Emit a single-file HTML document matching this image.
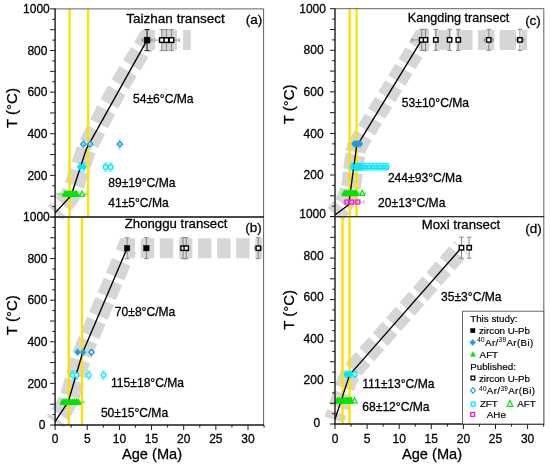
<!DOCTYPE html>
<html><head><meta charset="utf-8"><title>T-t paths</title><style>html,body{margin:0;padding:0;background:#fff;}svg{display:block;will-change:transform;}text{font-family:"Liberation Sans", sans-serif;fill:#000;stroke:#000;stroke-width:0.28px;paint-order:stroke fill;}</style>
</head><body>
<svg width="550" height="467" viewBox="0 0 550 467">
<rect width="550" height="467" fill="#fff"/>
<defs>
<clipPath id="clipa"><rect x="43.1" y="8.9" width="220" height="212.1"/></clipPath>
<clipPath id="clipb"><rect x="43.1" y="217" width="220" height="212"/></clipPath>
<clipPath id="clipc"><rect x="323" y="8.7" width="220.3" height="211.9"/></clipPath>
<clipPath id="clipd"><rect x="323" y="216.6" width="220.3" height="211.4"/></clipPath>
</defs>
<g clip-path="url(#clipa)">
<path d="M142.64,47.38 L147.05,40.11 L190.7,40.11" fill="none" stroke="#d6d6d6" stroke-width="20" stroke-dasharray="16.3 6" stroke-dashoffset="0" stroke-linejoin="miter" stroke-miterlimit="10"/>
<path d="M139.79,52.08 L124.6,77.12 Q114.23,94.22 105.13,112.03 L89.79,142.09 Q86.61,148.33 84.43,154.98 L73.35,188.91 Q71.17,195.57 66.41,200.69 L55.1,212.84" fill="none" stroke="#d6d6d6" stroke-width="20" stroke-dasharray="15.5 6.8" stroke-dashoffset="0" stroke-linejoin="miter" stroke-miterlimit="10"/>
</g>
<line x1="69.57" y1="8.9" x2="69.57" y2="217" stroke="#ffe100" stroke-width="2.4"/>
<line x1="88.09" y1="8.9" x2="88.09" y2="217" stroke="#ffe100" stroke-width="2.4"/>
<line x1="56" y1="194.11" x2="87.6" y2="194.11" stroke="#00e400" stroke-width="0.8"/>
<line x1="161.84" y1="29.61" x2="161.84" y2="50.61" stroke="#7d7d7d" stroke-width="0.9"/>
<line x1="159.54" y1="29.61" x2="164.14" y2="29.61" stroke="#7d7d7d" stroke-width="0.9"/>
<line x1="159.54" y1="50.61" x2="164.14" y2="50.61" stroke="#7d7d7d" stroke-width="0.9"/>
<line x1="166.34" y1="29.61" x2="166.34" y2="50.61" stroke="#7d7d7d" stroke-width="0.9"/>
<line x1="164.04" y1="29.61" x2="168.64" y2="29.61" stroke="#7d7d7d" stroke-width="0.9"/>
<line x1="164.04" y1="50.61" x2="168.64" y2="50.61" stroke="#7d7d7d" stroke-width="0.9"/>
<line x1="171.48" y1="29.61" x2="171.48" y2="50.61" stroke="#7d7d7d" stroke-width="0.9"/>
<line x1="169.18" y1="29.61" x2="173.78" y2="29.61" stroke="#7d7d7d" stroke-width="0.9"/>
<line x1="169.18" y1="50.61" x2="173.78" y2="50.61" stroke="#7d7d7d" stroke-width="0.9"/>
<line x1="154.64" y1="40.11" x2="179.34" y2="40.11" stroke="#7d7d7d" stroke-width="0.8"/>
<line x1="154.64" y1="38.11" x2="154.64" y2="42.11" stroke="#7d7d7d" stroke-width="0.8"/>
<line x1="179.34" y1="38.11" x2="179.34" y2="42.11" stroke="#7d7d7d" stroke-width="0.8"/>
<line x1="147.05" y1="29.61" x2="147.05" y2="50.61" stroke="#222" stroke-width="1.1"/>
<line x1="144.45" y1="29.61" x2="149.65" y2="29.61" stroke="#222" stroke-width="1.1"/>
<line x1="144.45" y1="50.61" x2="149.65" y2="50.61" stroke="#222" stroke-width="1.1"/>
<line x1="142.05" y1="40.11" x2="152.05" y2="40.11" stroke="#7d7d7d" stroke-width="0.8"/>
<line x1="142.05" y1="38.11" x2="142.05" y2="42.11" stroke="#7d7d7d" stroke-width="0.8"/>
<line x1="152.05" y1="38.11" x2="152.05" y2="42.11" stroke="#7d7d7d" stroke-width="0.8"/>
<line x1="83.39" y1="139.16" x2="83.39" y2="149.16" stroke="#8fd2f6" stroke-width="0.7"/>
<line x1="81.59" y1="139.16" x2="85.19" y2="139.16" stroke="#8fd2f6" stroke-width="0.7"/>
<line x1="81.59" y1="149.16" x2="85.19" y2="149.16" stroke="#8fd2f6" stroke-width="0.7"/>
<line x1="90.21" y1="139.16" x2="90.21" y2="149.16" stroke="#8fd2f6" stroke-width="0.7"/>
<line x1="88.41" y1="139.16" x2="92.01" y2="139.16" stroke="#8fd2f6" stroke-width="0.7"/>
<line x1="88.41" y1="149.16" x2="92.01" y2="149.16" stroke="#8fd2f6" stroke-width="0.7"/>
<line x1="119.79" y1="139.16" x2="119.79" y2="149.16" stroke="#8fd2f6" stroke-width="0.7"/>
<line x1="117.99" y1="139.16" x2="121.59" y2="139.16" stroke="#8fd2f6" stroke-width="0.7"/>
<line x1="117.99" y1="149.16" x2="121.59" y2="149.16" stroke="#8fd2f6" stroke-width="0.7"/>
<line x1="79.98" y1="162.96" x2="79.98" y2="171.16" stroke="#00e8ff" stroke-width="0.7"/>
<line x1="77.98" y1="162.96" x2="81.98" y2="162.96" stroke="#00e8ff" stroke-width="0.7"/>
<line x1="77.98" y1="171.16" x2="81.98" y2="171.16" stroke="#00e8ff" stroke-width="0.7"/>
<line x1="83.78" y1="162.96" x2="83.78" y2="171.16" stroke="#00e8ff" stroke-width="0.7"/>
<line x1="81.78" y1="162.96" x2="85.78" y2="162.96" stroke="#00e8ff" stroke-width="0.7"/>
<line x1="81.78" y1="171.16" x2="85.78" y2="171.16" stroke="#00e8ff" stroke-width="0.7"/>
<line x1="105.58" y1="162.96" x2="105.58" y2="171.16" stroke="#00e8ff" stroke-width="0.7"/>
<line x1="103.58" y1="162.96" x2="107.58" y2="162.96" stroke="#00e8ff" stroke-width="0.7"/>
<line x1="103.58" y1="171.16" x2="107.58" y2="171.16" stroke="#00e8ff" stroke-width="0.7"/>
<line x1="110.78" y1="162.96" x2="110.78" y2="171.16" stroke="#00e8ff" stroke-width="0.7"/>
<line x1="108.78" y1="162.96" x2="112.78" y2="162.96" stroke="#00e8ff" stroke-width="0.7"/>
<line x1="108.78" y1="171.16" x2="112.78" y2="171.16" stroke="#00e8ff" stroke-width="0.7"/>
<polyline points="55.1,212.84 71.17,195.57 86.61,148.33 147.05,40.11" fill="none" stroke="#000" stroke-width="1.35" stroke-linejoin="round"/>
<rect x="159.54" y="37.81" width="4.6" height="4.6" fill="#fff" stroke="#000" stroke-width="1.4"/>
<rect x="164.04" y="37.81" width="4.6" height="4.6" fill="#fff" stroke="#000" stroke-width="1.4"/>
<rect x="169.18" y="37.81" width="4.6" height="4.6" fill="#fff" stroke="#000" stroke-width="1.4"/>
<rect x="144.15" y="37.21" width="5.8" height="5.8" fill="#000" stroke="#000" stroke-width="0.6"/>
<path d="M83.39,141.26 L86.09,144.16 L83.39,147.06 L80.69,144.16Z" fill="#fff" stroke="#1b9ce6" stroke-width="1.4" stroke-linejoin="miter"/>
<circle cx="83.39" cy="144.16" r="0.7" fill="#1b9ce6" stroke="#1b9ce6" stroke-width="0.2"/>
<path d="M90.21,141.26 L92.91,144.16 L90.21,147.06 L87.51,144.16Z" fill="#fff" stroke="#1b9ce6" stroke-width="1.4" stroke-linejoin="miter"/>
<circle cx="90.21" cy="144.16" r="0.7" fill="#1b9ce6" stroke="#1b9ce6" stroke-width="0.2"/>
<path d="M119.79,141.26 L122.49,144.16 L119.79,147.06 L117.09,144.16Z" fill="#fff" stroke="#1b9ce6" stroke-width="1.4" stroke-linejoin="miter"/>
<circle cx="119.79" cy="144.16" r="0.7" fill="#1b9ce6" stroke="#1b9ce6" stroke-width="0.2"/>
<circle cx="79.98" cy="167.06" r="2.1" fill="#00e8ff" stroke="#00e8ff" stroke-width="1.3"/>
<circle cx="83.78" cy="167.06" r="2.1" fill="#00e8ff" stroke="#00e8ff" stroke-width="1.3"/>
<circle cx="105.58" cy="167.06" r="2.3" fill="#fff" stroke="#00e8ff" stroke-width="1.3"/>
<circle cx="110.78" cy="167.06" r="2.3" fill="#fff" stroke="#00e8ff" stroke-width="1.3"/>
<path d="M65.07,190.75 L67.87,196.35 L62.27,196.35Z" fill="#00e400" stroke="#00e400" stroke-width="1.0" stroke-linejoin="miter"/>
<path d="M67.32,190.75 L70.12,196.35 L64.52,196.35Z" fill="#00e400" stroke="#00e400" stroke-width="1.0" stroke-linejoin="miter"/>
<path d="M68.92,190.75 L71.72,196.35 L66.12,196.35Z" fill="#00e400" stroke="#00e400" stroke-width="1.0" stroke-linejoin="miter"/>
<path d="M70.53,190.75 L73.33,196.35 L67.73,196.35Z" fill="#00e400" stroke="#00e400" stroke-width="1.0" stroke-linejoin="miter"/>
<path d="M72.14,190.75 L74.94,196.35 L69.34,196.35Z" fill="#00e400" stroke="#00e400" stroke-width="1.0" stroke-linejoin="miter"/>
<path d="M73.75,190.75 L76.55,196.35 L70.95,196.35Z" fill="#00e400" stroke="#00e400" stroke-width="1.0" stroke-linejoin="miter"/>
<path d="M75.35,190.75 L78.15,196.35 L72.55,196.35Z" fill="#00e400" stroke="#00e400" stroke-width="1.0" stroke-linejoin="miter"/>
<path d="M76.64,190.75 L79.44,196.35 L73.84,196.35Z" fill="#00e400" stroke="#00e400" stroke-width="1.0" stroke-linejoin="miter"/>
<path d="M82.11,190.99 L84.61,196.19 L79.61,196.19Z" fill="#fff" stroke="#00e400" stroke-width="1.2" stroke-linejoin="miter"/>
<text x="175.5" y="23.2" font-size="13.5" text-anchor="middle" >Taizhan transect</text>
<text x="254.1" y="24.3" font-size="13.5" text-anchor="middle" >(a)</text>
<text x="133" y="103.4" font-size="12.1" text-anchor="start" >54±6°C/Ma</text>
<text x="108.2" y="186.6" font-size="12.1" text-anchor="start" >89±19°C/Ma</text>
<text x="108.2" y="206.6" font-size="12.1" text-anchor="start" >41±5°C/Ma</text>
<g clip-path="url(#clipb)">
<path d="M124.96,253.26 L127.12,248.2 L262.3,248.2" fill="none" stroke="#d6d6d6" stroke-width="20" stroke-dasharray="13.4 5.7" stroke-dashoffset="0" stroke-linejoin="miter" stroke-miterlimit="10"/>
<path d="M121.32,261.82 L85.23,346.59 Q82.49,353.03 80.53,359.75 L70.24,394.98 Q68.28,401.7 64.43,407.55 L55.1,421.67" fill="none" stroke="#d6d6d6" stroke-width="20" stroke-dasharray="16 5.3" stroke-dashoffset="0" stroke-linejoin="miter" stroke-miterlimit="10"/>
</g>
<line x1="68.8" y1="217" x2="68.8" y2="425" stroke="#ffe100" stroke-width="2.4"/>
<line x1="81.98" y1="217" x2="81.98" y2="425" stroke="#ffe100" stroke-width="2.4"/>
<line x1="60" y1="402.12" x2="85" y2="402.12" stroke="#00e400" stroke-width="0.8"/>
<line x1="127.12" y1="237.7" x2="127.12" y2="258.7" stroke="#7d7d7d" stroke-width="0.9"/>
<line x1="124.82" y1="237.7" x2="129.42" y2="237.7" stroke="#7d7d7d" stroke-width="0.9"/>
<line x1="124.82" y1="258.7" x2="129.42" y2="258.7" stroke="#7d7d7d" stroke-width="0.9"/>
<line x1="146.41" y1="237.7" x2="146.41" y2="258.7" stroke="#7d7d7d" stroke-width="0.9"/>
<line x1="144.11" y1="237.7" x2="148.71" y2="237.7" stroke="#7d7d7d" stroke-width="0.9"/>
<line x1="144.11" y1="258.7" x2="148.71" y2="258.7" stroke="#7d7d7d" stroke-width="0.9"/>
<line x1="183.06" y1="237.7" x2="183.06" y2="258.7" stroke="#7d7d7d" stroke-width="0.9"/>
<line x1="180.76" y1="237.7" x2="185.36" y2="237.7" stroke="#7d7d7d" stroke-width="0.9"/>
<line x1="180.76" y1="258.7" x2="185.36" y2="258.7" stroke="#7d7d7d" stroke-width="0.9"/>
<line x1="186.27" y1="237.7" x2="186.27" y2="258.7" stroke="#7d7d7d" stroke-width="0.9"/>
<line x1="183.97" y1="237.7" x2="188.57" y2="237.7" stroke="#7d7d7d" stroke-width="0.9"/>
<line x1="183.97" y1="258.7" x2="188.57" y2="258.7" stroke="#7d7d7d" stroke-width="0.9"/>
<line x1="258.29" y1="237.7" x2="258.29" y2="258.7" stroke="#7d7d7d" stroke-width="0.9"/>
<line x1="255.99" y1="237.7" x2="260.59" y2="237.7" stroke="#7d7d7d" stroke-width="0.9"/>
<line x1="255.99" y1="258.7" x2="260.59" y2="258.7" stroke="#7d7d7d" stroke-width="0.9"/>
<line x1="254.79" y1="248.2" x2="261.79" y2="248.2" stroke="#7d7d7d" stroke-width="0.8"/>
<line x1="254.79" y1="246.2" x2="254.79" y2="250.2" stroke="#7d7d7d" stroke-width="0.8"/>
<line x1="261.79" y1="246.2" x2="261.79" y2="250.2" stroke="#7d7d7d" stroke-width="0.8"/>
<line x1="181.16" y1="248.2" x2="188.16" y2="248.2" stroke="#7d7d7d" stroke-width="0.8"/>
<line x1="181.16" y1="246.2" x2="181.16" y2="250.2" stroke="#7d7d7d" stroke-width="0.8"/>
<line x1="188.16" y1="246.2" x2="188.16" y2="250.2" stroke="#7d7d7d" stroke-width="0.8"/>
<line x1="72.59" y1="370.98" x2="72.59" y2="379.18" stroke="#00e8ff" stroke-width="0.7"/>
<line x1="70.59" y1="370.98" x2="74.59" y2="370.98" stroke="#00e8ff" stroke-width="0.7"/>
<line x1="70.59" y1="379.18" x2="74.59" y2="379.18" stroke="#00e8ff" stroke-width="0.7"/>
<line x1="76.58" y1="370.98" x2="76.58" y2="379.18" stroke="#00e8ff" stroke-width="0.7"/>
<line x1="74.58" y1="370.98" x2="78.58" y2="370.98" stroke="#00e8ff" stroke-width="0.7"/>
<line x1="74.58" y1="379.18" x2="78.58" y2="379.18" stroke="#00e8ff" stroke-width="0.7"/>
<line x1="88.79" y1="370.98" x2="88.79" y2="379.18" stroke="#00e8ff" stroke-width="0.7"/>
<line x1="86.79" y1="370.98" x2="90.79" y2="370.98" stroke="#00e8ff" stroke-width="0.7"/>
<line x1="86.79" y1="379.18" x2="90.79" y2="379.18" stroke="#00e8ff" stroke-width="0.7"/>
<line x1="103.58" y1="370.98" x2="103.58" y2="379.18" stroke="#00e8ff" stroke-width="0.7"/>
<line x1="101.58" y1="370.98" x2="105.58" y2="370.98" stroke="#00e8ff" stroke-width="0.7"/>
<line x1="101.58" y1="379.18" x2="105.58" y2="379.18" stroke="#00e8ff" stroke-width="0.7"/>
<polyline points="55.1,421.67 68.28,401.7 82.49,353.03 127.12,248.2" fill="none" stroke="#000" stroke-width="1.35" stroke-linejoin="round"/>
<rect x="124.42" y="245.5" width="5.4" height="5.4" fill="#000" stroke="#000" stroke-width="0.5"/>
<rect x="143.71" y="245.5" width="5.4" height="5.4" fill="#000" stroke="#000" stroke-width="0.5"/>
<rect x="180.86" y="246" width="4.4" height="4.4" fill="#fff" stroke="#000" stroke-width="1.4"/>
<rect x="184.07" y="246" width="4.4" height="4.4" fill="#fff" stroke="#000" stroke-width="1.4"/>
<rect x="256.09" y="246" width="4.4" height="4.4" fill="#fff" stroke="#000" stroke-width="1.4"/>
<path d="M77.61,348.7 L80.51,352.2 L77.61,355.7 L74.7,352.2Z" fill="#1b9ce6" stroke="#1b9ce6" stroke-width="0.4" stroke-linejoin="miter"/>
<path d="M83.07,348.7 L85.97,352.2 L83.07,355.7 L80.17,352.2Z" fill="#1b9ce6" stroke="#1b9ce6" stroke-width="0.4" stroke-linejoin="miter"/>
<path d="M91.43,349.3 L94.13,352.2 L91.43,355.1 L88.73,352.2Z" fill="#fff" stroke="#1b9ce6" stroke-width="1.4" stroke-linejoin="miter"/>
<circle cx="72.59" cy="375.08" r="2.3" fill="#fff" stroke="#00e8ff" stroke-width="1.3"/>
<circle cx="76.58" cy="375.08" r="2.3" fill="#fff" stroke="#00e8ff" stroke-width="1.3"/>
<circle cx="88.79" cy="375.08" r="2.3" fill="#fff" stroke="#00e8ff" stroke-width="1.3"/>
<circle cx="103.58" cy="375.08" r="2.3" fill="#fff" stroke="#00e8ff" stroke-width="1.3"/>
<path d="M62.82,398.76 L65.62,404.36 L60.02,404.36Z" fill="#00e400" stroke="#00e400" stroke-width="1.0" stroke-linejoin="miter"/>
<path d="M64.75,398.76 L67.55,404.36 L61.95,404.36Z" fill="#00e400" stroke="#00e400" stroke-width="1.0" stroke-linejoin="miter"/>
<path d="M66.67,398.76 L69.47,404.36 L63.87,404.36Z" fill="#00e400" stroke="#00e400" stroke-width="1.0" stroke-linejoin="miter"/>
<path d="M68.6,398.76 L71.4,404.36 L65.8,404.36Z" fill="#00e400" stroke="#00e400" stroke-width="1.0" stroke-linejoin="miter"/>
<path d="M70.53,398.76 L73.33,404.36 L67.73,404.36Z" fill="#00e400" stroke="#00e400" stroke-width="1.0" stroke-linejoin="miter"/>
<path d="M72.46,398.76 L75.26,404.36 L69.66,404.36Z" fill="#00e400" stroke="#00e400" stroke-width="1.0" stroke-linejoin="miter"/>
<path d="M74.39,398.76 L77.19,404.36 L71.59,404.36Z" fill="#00e400" stroke="#00e400" stroke-width="1.0" stroke-linejoin="miter"/>
<path d="M76.32,398.76 L79.12,404.36 L73.52,404.36Z" fill="#00e400" stroke="#00e400" stroke-width="1.0" stroke-linejoin="miter"/>
<path d="M78.25,398.76 L81.05,404.36 L75.45,404.36Z" fill="#00e400" stroke="#00e400" stroke-width="1.0" stroke-linejoin="miter"/>
<text x="176.1" y="228.2" font-size="13.2" text-anchor="middle" >Zhonggu transect</text>
<text x="253.6" y="232.4" font-size="13.5" text-anchor="middle" >(b)</text>
<text x="114.8" y="315.7" font-size="12.1" text-anchor="start" >70±8°C/Ma</text>
<text x="111" y="387.3" font-size="12.1" text-anchor="start" >115±18°C/Ma</text>
<text x="100.9" y="416.9" font-size="12.1" text-anchor="start" >50±15°C/Ma</text>
<g clip-path="url(#clipc)">
<path d="M417.08,47.39 L421.67,39.88 L527.1,39.88" fill="none" stroke="#d6d6d6" stroke-width="20" stroke-dasharray="16.3 5.4" stroke-dashoffset="0" stroke-linejoin="miter" stroke-miterlimit="10"/>
<path d="M413.95,52.51 L359.11,142.27 Q356.51,146.54 355.9,150.52 L355.3,154.5" fill="none" stroke="#d6d6d6" stroke-width="20" stroke-dasharray="13.4 6 13.4 6 13.4 6 13.4 6 13.4 6 18.5 400" stroke-dashoffset="0" stroke-linejoin="miter" stroke-miterlimit="10"/>
<path d="M335,214.5 L339.92,208.8 Q344.5,203.5 347.34,197.1 L347.66,196.4 Q350.5,190 351.4,184 L351.4,184 Q352.3,178 353.07,171.04 L353.53,166.96 Q354.3,160 354.93,157.45 L355.55,154.9" fill="none" stroke="#d6d6d6" stroke-width="20" stroke-dasharray="15 3.15" stroke-dashoffset="4.950000000000001" stroke-linejoin="miter" stroke-miterlimit="10"/>
</g>
<line x1="349.64" y1="8.7" x2="349.64" y2="216.6" stroke="#ffe100" stroke-width="2.4"/>
<line x1="356.57" y1="8.7" x2="356.57" y2="216.6" stroke="#ffe100" stroke-width="2.4"/>
<line x1="421.67" y1="29.38" x2="421.67" y2="50.38" stroke="#7d7d7d" stroke-width="0.9"/>
<line x1="419.37" y1="29.38" x2="423.97" y2="29.38" stroke="#7d7d7d" stroke-width="0.9"/>
<line x1="419.37" y1="50.38" x2="423.97" y2="50.38" stroke="#7d7d7d" stroke-width="0.9"/>
<line x1="425.52" y1="29.38" x2="425.52" y2="50.38" stroke="#7d7d7d" stroke-width="0.9"/>
<line x1="423.22" y1="29.38" x2="427.82" y2="29.38" stroke="#7d7d7d" stroke-width="0.9"/>
<line x1="423.22" y1="50.38" x2="427.82" y2="50.38" stroke="#7d7d7d" stroke-width="0.9"/>
<line x1="435.79" y1="29.38" x2="435.79" y2="50.38" stroke="#7d7d7d" stroke-width="0.9"/>
<line x1="433.49" y1="29.38" x2="438.09" y2="29.38" stroke="#7d7d7d" stroke-width="0.9"/>
<line x1="433.49" y1="50.38" x2="438.09" y2="50.38" stroke="#7d7d7d" stroke-width="0.9"/>
<line x1="449.6" y1="29.38" x2="449.6" y2="50.38" stroke="#7d7d7d" stroke-width="0.9"/>
<line x1="447.3" y1="29.38" x2="451.9" y2="29.38" stroke="#7d7d7d" stroke-width="0.9"/>
<line x1="447.3" y1="50.38" x2="451.9" y2="50.38" stroke="#7d7d7d" stroke-width="0.9"/>
<line x1="458.26" y1="29.38" x2="458.26" y2="50.38" stroke="#7d7d7d" stroke-width="0.9"/>
<line x1="455.96" y1="29.38" x2="460.56" y2="29.38" stroke="#7d7d7d" stroke-width="0.9"/>
<line x1="455.96" y1="50.38" x2="460.56" y2="50.38" stroke="#7d7d7d" stroke-width="0.9"/>
<line x1="488.76" y1="29.38" x2="488.76" y2="50.38" stroke="#7d7d7d" stroke-width="0.9"/>
<line x1="486.46" y1="29.38" x2="491.06" y2="29.38" stroke="#7d7d7d" stroke-width="0.9"/>
<line x1="486.46" y1="50.38" x2="491.06" y2="50.38" stroke="#7d7d7d" stroke-width="0.9"/>
<line x1="519.9" y1="29.38" x2="519.9" y2="50.38" stroke="#7d7d7d" stroke-width="0.9"/>
<line x1="517.6" y1="29.38" x2="522.2" y2="29.38" stroke="#7d7d7d" stroke-width="0.9"/>
<line x1="517.6" y1="50.38" x2="522.2" y2="50.38" stroke="#7d7d7d" stroke-width="0.9"/>
<line x1="411.97" y1="39.88" x2="425.67" y2="39.88" stroke="#7d7d7d" stroke-width="0.8"/>
<line x1="411.97" y1="37.88" x2="411.97" y2="41.88" stroke="#7d7d7d" stroke-width="0.8"/>
<line x1="425.67" y1="37.88" x2="425.67" y2="41.88" stroke="#7d7d7d" stroke-width="0.8"/>
<line x1="484.26" y1="39.88" x2="493.26" y2="39.88" stroke="#7d7d7d" stroke-width="0.8"/>
<line x1="484.26" y1="37.88" x2="484.26" y2="41.88" stroke="#7d7d7d" stroke-width="0.8"/>
<line x1="493.26" y1="37.88" x2="493.26" y2="41.88" stroke="#7d7d7d" stroke-width="0.8"/>
<line x1="515.9" y1="39.88" x2="523.9" y2="39.88" stroke="#7d7d7d" stroke-width="0.8"/>
<line x1="515.9" y1="37.88" x2="515.9" y2="41.88" stroke="#7d7d7d" stroke-width="0.8"/>
<line x1="523.9" y1="37.88" x2="523.9" y2="41.88" stroke="#7d7d7d" stroke-width="0.8"/>
<line x1="352.33" y1="163.4" x2="352.33" y2="170" stroke="#00e8ff" stroke-width="0.9"/>
<line x1="350.13" y1="163.4" x2="354.53" y2="163.4" stroke="#00e8ff" stroke-width="0.9"/>
<line x1="350.13" y1="170" x2="354.53" y2="170" stroke="#00e8ff" stroke-width="0.9"/>
<line x1="354.26" y1="163.4" x2="354.26" y2="170" stroke="#00e8ff" stroke-width="0.9"/>
<line x1="352.06" y1="163.4" x2="356.46" y2="163.4" stroke="#00e8ff" stroke-width="0.9"/>
<line x1="352.06" y1="170" x2="356.46" y2="170" stroke="#00e8ff" stroke-width="0.9"/>
<line x1="356.19" y1="163.4" x2="356.19" y2="170" stroke="#00e8ff" stroke-width="0.9"/>
<line x1="353.99" y1="163.4" x2="358.39" y2="163.4" stroke="#00e8ff" stroke-width="0.9"/>
<line x1="353.99" y1="170" x2="358.39" y2="170" stroke="#00e8ff" stroke-width="0.9"/>
<line x1="358.11" y1="163.4" x2="358.11" y2="170" stroke="#00e8ff" stroke-width="0.9"/>
<line x1="355.91" y1="163.4" x2="360.31" y2="163.4" stroke="#00e8ff" stroke-width="0.9"/>
<line x1="355.91" y1="170" x2="360.31" y2="170" stroke="#00e8ff" stroke-width="0.9"/>
<line x1="360.04" y1="163.4" x2="360.04" y2="170" stroke="#00e8ff" stroke-width="0.9"/>
<line x1="357.84" y1="163.4" x2="362.24" y2="163.4" stroke="#00e8ff" stroke-width="0.9"/>
<line x1="357.84" y1="170" x2="362.24" y2="170" stroke="#00e8ff" stroke-width="0.9"/>
<line x1="361.96" y1="163.4" x2="361.96" y2="170" stroke="#00e8ff" stroke-width="0.9"/>
<line x1="359.76" y1="163.4" x2="364.16" y2="163.4" stroke="#00e8ff" stroke-width="0.9"/>
<line x1="359.76" y1="170" x2="364.16" y2="170" stroke="#00e8ff" stroke-width="0.9"/>
<line x1="365.5" y1="163.4" x2="365.5" y2="170" stroke="#00e8ff" stroke-width="0.9"/>
<line x1="363.3" y1="163.4" x2="367.69" y2="163.4" stroke="#00e8ff" stroke-width="0.9"/>
<line x1="363.3" y1="170" x2="367.69" y2="170" stroke="#00e8ff" stroke-width="0.9"/>
<line x1="369.03" y1="163.4" x2="369.03" y2="170" stroke="#00e8ff" stroke-width="0.9"/>
<line x1="366.83" y1="163.4" x2="371.23" y2="163.4" stroke="#00e8ff" stroke-width="0.9"/>
<line x1="366.83" y1="170" x2="371.23" y2="170" stroke="#00e8ff" stroke-width="0.9"/>
<line x1="372.69" y1="163.4" x2="372.69" y2="170" stroke="#00e8ff" stroke-width="0.9"/>
<line x1="370.49" y1="163.4" x2="374.89" y2="163.4" stroke="#00e8ff" stroke-width="0.9"/>
<line x1="370.49" y1="170" x2="374.89" y2="170" stroke="#00e8ff" stroke-width="0.9"/>
<line x1="376.34" y1="163.4" x2="376.34" y2="170" stroke="#00e8ff" stroke-width="0.9"/>
<line x1="374.14" y1="163.4" x2="378.54" y2="163.4" stroke="#00e8ff" stroke-width="0.9"/>
<line x1="374.14" y1="170" x2="378.54" y2="170" stroke="#00e8ff" stroke-width="0.9"/>
<line x1="379.94" y1="163.4" x2="379.94" y2="170" stroke="#00e8ff" stroke-width="0.9"/>
<line x1="377.74" y1="163.4" x2="382.14" y2="163.4" stroke="#00e8ff" stroke-width="0.9"/>
<line x1="377.74" y1="170" x2="382.14" y2="170" stroke="#00e8ff" stroke-width="0.9"/>
<line x1="383.6" y1="163.4" x2="383.6" y2="170" stroke="#00e8ff" stroke-width="0.9"/>
<line x1="381.4" y1="163.4" x2="385.8" y2="163.4" stroke="#00e8ff" stroke-width="0.9"/>
<line x1="381.4" y1="170" x2="385.8" y2="170" stroke="#00e8ff" stroke-width="0.9"/>
<line x1="387" y1="163.4" x2="387" y2="170" stroke="#00e8ff" stroke-width="0.9"/>
<line x1="384.8" y1="163.4" x2="389.2" y2="163.4" stroke="#00e8ff" stroke-width="0.9"/>
<line x1="384.8" y1="170" x2="389.2" y2="170" stroke="#00e8ff" stroke-width="0.9"/>
<line x1="350.41" y1="166.7" x2="390.53" y2="166.7" stroke="#00e8ff" stroke-width="0.8"/>
<line x1="353.79" y1="202.05" x2="364.09" y2="202.05" stroke="#f86fe6" stroke-width="0.7"/>
<line x1="353.79" y1="200.25" x2="353.79" y2="203.85" stroke="#f86fe6" stroke-width="0.7"/>
<line x1="364.09" y1="200.25" x2="364.09" y2="203.85" stroke="#f86fe6" stroke-width="0.7"/>
<line x1="343.71" y1="202.05" x2="350.01" y2="202.05" stroke="#f86fe6" stroke-width="0.7"/>
<line x1="343.71" y1="200.25" x2="343.71" y2="203.85" stroke="#f86fe6" stroke-width="0.7"/>
<line x1="350.01" y1="200.25" x2="350.01" y2="203.85" stroke="#f86fe6" stroke-width="0.7"/>
<line x1="341" y1="193.32" x2="366" y2="193.32" stroke="#00e400" stroke-width="0.8"/>
<polyline points="335,214.94 348.67,204.75 356.51,146.54 421.67,39.88" fill="none" stroke="#000" stroke-width="1.35" stroke-linejoin="round"/>
<rect x="419.47" y="37.68" width="4.4" height="4.4" fill="#fff" stroke="#000" stroke-width="1.4"/>
<rect x="423.32" y="37.68" width="4.4" height="4.4" fill="#fff" stroke="#000" stroke-width="1.4"/>
<rect x="433.59" y="37.68" width="4.4" height="4.4" fill="#fff" stroke="#000" stroke-width="1.4"/>
<rect x="447.4" y="37.68" width="4.4" height="4.4" fill="#fff" stroke="#000" stroke-width="1.4"/>
<rect x="456.06" y="37.68" width="4.4" height="4.4" fill="#fff" stroke="#000" stroke-width="1.4"/>
<rect x="486.56" y="37.68" width="4.4" height="4.4" fill="#fff" stroke="#000" stroke-width="1.4"/>
<rect x="517.7" y="37.68" width="4.4" height="4.4" fill="#fff" stroke="#000" stroke-width="1.4"/>
<path d="M354.26,140.33 L357.16,143.83 L354.26,147.33 L351.36,143.83Z" fill="#1b9ce6" stroke="#1b9ce6" stroke-width="0.4" stroke-linejoin="miter"/>
<path d="M356.19,140.33 L359.09,143.83 L356.19,147.33 L353.29,143.83Z" fill="#1b9ce6" stroke="#1b9ce6" stroke-width="0.4" stroke-linejoin="miter"/>
<path d="M358.11,140.33 L361.01,143.83 L358.11,147.33 L355.21,143.83Z" fill="#1b9ce6" stroke="#1b9ce6" stroke-width="0.4" stroke-linejoin="miter"/>
<path d="M360.04,140.33 L362.94,143.83 L360.04,147.33 L357.14,143.83Z" fill="#1b9ce6" stroke="#1b9ce6" stroke-width="0.4" stroke-linejoin="miter"/>
<circle cx="352.33" cy="166.7" r="1.9" fill="none" stroke="#00e8ff" stroke-width="1.3"/>
<circle cx="354.26" cy="166.7" r="1.9" fill="none" stroke="#00e8ff" stroke-width="1.3"/>
<circle cx="356.19" cy="166.7" r="1.9" fill="none" stroke="#00e8ff" stroke-width="1.3"/>
<circle cx="358.11" cy="166.7" r="1.9" fill="none" stroke="#00e8ff" stroke-width="1.3"/>
<circle cx="360.04" cy="166.7" r="1.9" fill="none" stroke="#00e8ff" stroke-width="1.3"/>
<circle cx="361.96" cy="166.7" r="1.9" fill="none" stroke="#00e8ff" stroke-width="1.3"/>
<circle cx="365.5" cy="166.7" r="1.9" fill="none" stroke="#00e8ff" stroke-width="1.3"/>
<circle cx="369.03" cy="166.7" r="1.9" fill="none" stroke="#00e8ff" stroke-width="1.3"/>
<circle cx="372.69" cy="166.7" r="1.9" fill="none" stroke="#00e8ff" stroke-width="1.3"/>
<circle cx="376.34" cy="166.7" r="1.9" fill="none" stroke="#00e8ff" stroke-width="1.3"/>
<circle cx="379.94" cy="166.7" r="1.9" fill="none" stroke="#00e8ff" stroke-width="1.3"/>
<circle cx="383.6" cy="166.7" r="1.9" fill="none" stroke="#00e8ff" stroke-width="1.3"/>
<circle cx="387" cy="166.7" r="1.9" fill="none" stroke="#00e8ff" stroke-width="1.3"/>
<path d="M344.63,189.84 L347.43,195.64 L341.83,195.64Z" fill="#00e400" stroke="#00e400" stroke-width="1.0" stroke-linejoin="miter"/>
<path d="M346.56,189.84 L349.36,195.64 L343.76,195.64Z" fill="#00e400" stroke="#00e400" stroke-width="1.0" stroke-linejoin="miter"/>
<path d="M348.48,189.84 L351.28,195.64 L345.68,195.64Z" fill="#00e400" stroke="#00e400" stroke-width="1.0" stroke-linejoin="miter"/>
<path d="M350.41,189.84 L353.21,195.64 L347.61,195.64Z" fill="#00e400" stroke="#00e400" stroke-width="1.0" stroke-linejoin="miter"/>
<path d="M352.33,189.84 L355.13,195.64 L349.53,195.64Z" fill="#00e400" stroke="#00e400" stroke-width="1.0" stroke-linejoin="miter"/>
<path d="M354.26,189.84 L357.06,195.64 L351.46,195.64Z" fill="#00e400" stroke="#00e400" stroke-width="1.0" stroke-linejoin="miter"/>
<path d="M356.19,189.84 L358.99,195.64 L353.39,195.64Z" fill="#00e400" stroke="#00e400" stroke-width="1.0" stroke-linejoin="miter"/>
<path d="M362.29,190.2 L364.79,195.4 L359.79,195.4Z" fill="#fff" stroke="#00e400" stroke-width="1.2" stroke-linejoin="miter"/>
<rect x="345.01" y="200.05" width="4" height="4" fill="none" stroke="#f516e0" stroke-width="1.3"/>
<rect x="349.69" y="200.05" width="4" height="4" fill="none" stroke="#f516e0" stroke-width="1.3"/>
<rect x="355.79" y="200.05" width="4" height="4" fill="none" stroke="#f516e0" stroke-width="1.3"/>
<text x="458.6" y="21.7" font-size="12.6" text-anchor="middle" >Kangding transect</text>
<text x="533" y="24.5" font-size="13.5" text-anchor="middle" >(c)</text>
<text x="401.8" y="107" font-size="12.1" text-anchor="start" >53±10°C/Ma</text>
<text x="387.9" y="181.6" font-size="12.1" text-anchor="start" >244±93°C/Ma</text>
<text x="378.1" y="207.3" font-size="12.1" text-anchor="start" >20±13°C/Ma</text>
<g clip-path="url(#clipd)">
<path d="M334.3,419.6 L345.26,385.96 Q348.97,374.55 356.94,365.57 L461.47,247.71" fill="none" stroke="#d6d6d6" stroke-width="20" stroke-dasharray="14.6 5.6" stroke-dashoffset="7.0" stroke-linejoin="miter" stroke-miterlimit="10"/>
</g>
<line x1="342.51" y1="216.6" x2="342.51" y2="424" stroke="#ffe100" stroke-width="2.4"/>
<line x1="349.51" y1="216.6" x2="349.51" y2="424" stroke="#ffe100" stroke-width="2.4"/>
<line x1="461.47" y1="237.21" x2="461.47" y2="258.21" stroke="#7d7d7d" stroke-width="0.9"/>
<line x1="459.17" y1="237.21" x2="463.77" y2="237.21" stroke="#7d7d7d" stroke-width="0.9"/>
<line x1="459.17" y1="258.21" x2="463.77" y2="258.21" stroke="#7d7d7d" stroke-width="0.9"/>
<line x1="469.18" y1="237.21" x2="469.18" y2="258.21" stroke="#7d7d7d" stroke-width="0.9"/>
<line x1="466.88" y1="237.21" x2="471.48" y2="237.21" stroke="#7d7d7d" stroke-width="0.9"/>
<line x1="466.88" y1="258.21" x2="471.48" y2="258.21" stroke="#7d7d7d" stroke-width="0.9"/>
<line x1="346.56" y1="371.12" x2="346.56" y2="377.32" stroke="#00e8ff" stroke-width="0.8"/>
<line x1="344.56" y1="371.12" x2="348.56" y2="371.12" stroke="#00e8ff" stroke-width="0.8"/>
<line x1="344.56" y1="377.32" x2="348.56" y2="377.32" stroke="#00e8ff" stroke-width="0.8"/>
<line x1="349.77" y1="371.12" x2="349.77" y2="377.32" stroke="#00e8ff" stroke-width="0.8"/>
<line x1="347.77" y1="371.12" x2="351.77" y2="371.12" stroke="#00e8ff" stroke-width="0.8"/>
<line x1="347.77" y1="377.32" x2="351.77" y2="377.32" stroke="#00e8ff" stroke-width="0.8"/>
<line x1="354.9" y1="371.12" x2="354.9" y2="377.32" stroke="#00e8ff" stroke-width="0.8"/>
<line x1="352.9" y1="371.12" x2="356.9" y2="371.12" stroke="#00e8ff" stroke-width="0.8"/>
<line x1="352.9" y1="377.32" x2="356.9" y2="377.32" stroke="#00e8ff" stroke-width="0.8"/>
<polyline points="335,419.23 349.57,374.85 461.47,247.71" fill="none" stroke="#000" stroke-width="1.35" stroke-linejoin="round"/>
<rect x="459.27" y="245.51" width="4.4" height="4.4" fill="#fff" stroke="#000" stroke-width="1.4"/>
<rect x="466.98" y="245.51" width="4.4" height="4.4" fill="#fff" stroke="#000" stroke-width="1.4"/>
<circle cx="346.56" cy="374.22" r="2.1" fill="#00e8ff" stroke="#00e8ff" stroke-width="1.3"/>
<circle cx="349.77" cy="374.22" r="2.1" fill="#00e8ff" stroke="#00e8ff" stroke-width="1.3"/>
<circle cx="354.9" cy="374.22" r="2.3" fill="#fff" stroke="#00e8ff" stroke-width="1.3"/>
<path d="M337.57,397.29 L340.37,403.09 L334.77,403.09Z" fill="#00e400" stroke="#00e400" stroke-width="1.0" stroke-linejoin="miter"/>
<path d="M339.49,397.29 L342.29,403.09 L336.69,403.09Z" fill="#00e400" stroke="#00e400" stroke-width="1.0" stroke-linejoin="miter"/>
<path d="M341.42,397.29 L344.22,403.09 L338.62,403.09Z" fill="#00e400" stroke="#00e400" stroke-width="1.0" stroke-linejoin="miter"/>
<path d="M343.35,397.29 L346.15,403.09 L340.55,403.09Z" fill="#00e400" stroke="#00e400" stroke-width="1.0" stroke-linejoin="miter"/>
<path d="M345.27,397.29 L348.07,403.09 L342.47,403.09Z" fill="#00e400" stroke="#00e400" stroke-width="1.0" stroke-linejoin="miter"/>
<path d="M347.2,397.29 L350,403.09 L344.4,403.09Z" fill="#00e400" stroke="#00e400" stroke-width="1.0" stroke-linejoin="miter"/>
<path d="M349.12,397.29 L351.92,403.09 L346.32,403.09Z" fill="#00e400" stroke="#00e400" stroke-width="1.0" stroke-linejoin="miter"/>
<path d="M351.05,397.29 L353.85,403.09 L348.25,403.09Z" fill="#00e400" stroke="#00e400" stroke-width="1.0" stroke-linejoin="miter"/>
<path d="M354.58,397.65 L357.08,402.85 L352.08,402.85Z" fill="#fff" stroke="#00e400" stroke-width="1.2" stroke-linejoin="miter"/>
<text x="461" y="228.8" font-size="13.2" text-anchor="middle" >Moxi transect</text>
<text x="533.4" y="232.5" font-size="13.5" text-anchor="middle" >(d)</text>
<text x="441" y="301.3" font-size="12.1" text-anchor="start" >35±3°C/Ma</text>
<text x="362.3" y="388.2" font-size="12.1" text-anchor="start" >111±13°C/Ma</text>
<text x="362.3" y="410.9" font-size="12.1" text-anchor="start" >68±12°C/Ma</text>
<line x1="55.1" y1="8.9" x2="263.6" y2="8.9" stroke="#3a3a3a" stroke-width="0.8"/>
<line x1="263.6" y1="8.9" x2="263.6" y2="217" stroke="#3a3a3a" stroke-width="0.8"/>
<line x1="55.1" y1="8.6" x2="55.1" y2="217.6" stroke="#1a1a1a" stroke-width="1.4"/>
<line x1="54.4" y1="217" x2="264" y2="217" stroke="#1a1a1a" stroke-width="1.3"/>
<line x1="50.1" y1="217" x2="55.1" y2="217" stroke="#1a1a1a" stroke-width="1.0"/>
<line x1="52.3" y1="206.59" x2="55.1" y2="206.59" stroke="#1a1a1a" stroke-width="1.0"/>
<line x1="50.1" y1="196.19" x2="55.1" y2="196.19" stroke="#1a1a1a" stroke-width="1.0"/>
<line x1="52.3" y1="185.78" x2="55.1" y2="185.78" stroke="#1a1a1a" stroke-width="1.0"/>
<line x1="50.1" y1="175.38" x2="55.1" y2="175.38" stroke="#1a1a1a" stroke-width="1.0"/>
<line x1="52.3" y1="164.97" x2="55.1" y2="164.97" stroke="#1a1a1a" stroke-width="1.0"/>
<line x1="50.1" y1="154.57" x2="55.1" y2="154.57" stroke="#1a1a1a" stroke-width="1.0"/>
<line x1="52.3" y1="144.16" x2="55.1" y2="144.16" stroke="#1a1a1a" stroke-width="1.0"/>
<line x1="50.1" y1="133.76" x2="55.1" y2="133.76" stroke="#1a1a1a" stroke-width="1.0"/>
<line x1="52.3" y1="123.35" x2="55.1" y2="123.35" stroke="#1a1a1a" stroke-width="1.0"/>
<line x1="50.1" y1="112.95" x2="55.1" y2="112.95" stroke="#1a1a1a" stroke-width="1.0"/>
<line x1="52.3" y1="102.55" x2="55.1" y2="102.55" stroke="#1a1a1a" stroke-width="1.0"/>
<line x1="50.1" y1="92.14" x2="55.1" y2="92.14" stroke="#1a1a1a" stroke-width="1.0"/>
<line x1="52.3" y1="81.73" x2="55.1" y2="81.73" stroke="#1a1a1a" stroke-width="1.0"/>
<line x1="50.1" y1="71.33" x2="55.1" y2="71.33" stroke="#1a1a1a" stroke-width="1.0"/>
<line x1="52.3" y1="60.92" x2="55.1" y2="60.92" stroke="#1a1a1a" stroke-width="1.0"/>
<line x1="50.1" y1="50.52" x2="55.1" y2="50.52" stroke="#1a1a1a" stroke-width="1.0"/>
<line x1="52.3" y1="40.11" x2="55.1" y2="40.11" stroke="#1a1a1a" stroke-width="1.0"/>
<line x1="50.1" y1="29.71" x2="55.1" y2="29.71" stroke="#1a1a1a" stroke-width="1.0"/>
<line x1="52.3" y1="19.31" x2="55.1" y2="19.31" stroke="#1a1a1a" stroke-width="1.0"/>
<line x1="50.1" y1="8.9" x2="55.1" y2="8.9" stroke="#1a1a1a" stroke-width="1.0"/>
<line x1="55.1" y1="217" x2="263.6" y2="217" stroke="#3a3a3a" stroke-width="0.8"/>
<line x1="263.6" y1="217" x2="263.6" y2="425" stroke="#3a3a3a" stroke-width="0.8"/>
<line x1="55.1" y1="216.7" x2="55.1" y2="425.6" stroke="#1a1a1a" stroke-width="1.4"/>
<line x1="54.4" y1="425" x2="264" y2="425" stroke="#1a1a1a" stroke-width="1.3"/>
<line x1="50.1" y1="425" x2="55.1" y2="425" stroke="#1a1a1a" stroke-width="1.0"/>
<line x1="52.3" y1="414.6" x2="55.1" y2="414.6" stroke="#1a1a1a" stroke-width="1.0"/>
<line x1="50.1" y1="404.2" x2="55.1" y2="404.2" stroke="#1a1a1a" stroke-width="1.0"/>
<line x1="52.3" y1="393.8" x2="55.1" y2="393.8" stroke="#1a1a1a" stroke-width="1.0"/>
<line x1="50.1" y1="383.4" x2="55.1" y2="383.4" stroke="#1a1a1a" stroke-width="1.0"/>
<line x1="52.3" y1="373" x2="55.1" y2="373" stroke="#1a1a1a" stroke-width="1.0"/>
<line x1="50.1" y1="362.6" x2="55.1" y2="362.6" stroke="#1a1a1a" stroke-width="1.0"/>
<line x1="52.3" y1="352.2" x2="55.1" y2="352.2" stroke="#1a1a1a" stroke-width="1.0"/>
<line x1="50.1" y1="341.8" x2="55.1" y2="341.8" stroke="#1a1a1a" stroke-width="1.0"/>
<line x1="52.3" y1="331.4" x2="55.1" y2="331.4" stroke="#1a1a1a" stroke-width="1.0"/>
<line x1="50.1" y1="321" x2="55.1" y2="321" stroke="#1a1a1a" stroke-width="1.0"/>
<line x1="52.3" y1="310.6" x2="55.1" y2="310.6" stroke="#1a1a1a" stroke-width="1.0"/>
<line x1="50.1" y1="300.2" x2="55.1" y2="300.2" stroke="#1a1a1a" stroke-width="1.0"/>
<line x1="52.3" y1="289.8" x2="55.1" y2="289.8" stroke="#1a1a1a" stroke-width="1.0"/>
<line x1="50.1" y1="279.4" x2="55.1" y2="279.4" stroke="#1a1a1a" stroke-width="1.0"/>
<line x1="52.3" y1="269" x2="55.1" y2="269" stroke="#1a1a1a" stroke-width="1.0"/>
<line x1="50.1" y1="258.6" x2="55.1" y2="258.6" stroke="#1a1a1a" stroke-width="1.0"/>
<line x1="52.3" y1="248.2" x2="55.1" y2="248.2" stroke="#1a1a1a" stroke-width="1.0"/>
<line x1="50.1" y1="237.8" x2="55.1" y2="237.8" stroke="#1a1a1a" stroke-width="1.0"/>
<line x1="52.3" y1="227.4" x2="55.1" y2="227.4" stroke="#1a1a1a" stroke-width="1.0"/>
<line x1="50.1" y1="217" x2="55.1" y2="217" stroke="#1a1a1a" stroke-width="1.0"/>
<line x1="55.1" y1="425" x2="55.1" y2="430" stroke="#1a1a1a" stroke-width="1.0"/>
<line x1="71.17" y1="425" x2="71.17" y2="427.6" stroke="#1a1a1a" stroke-width="1.0"/>
<line x1="87.25" y1="425" x2="87.25" y2="430" stroke="#1a1a1a" stroke-width="1.0"/>
<line x1="103.32" y1="425" x2="103.32" y2="427.6" stroke="#1a1a1a" stroke-width="1.0"/>
<line x1="119.4" y1="425" x2="119.4" y2="430" stroke="#1a1a1a" stroke-width="1.0"/>
<line x1="135.47" y1="425" x2="135.47" y2="427.6" stroke="#1a1a1a" stroke-width="1.0"/>
<line x1="151.55" y1="425" x2="151.55" y2="430" stroke="#1a1a1a" stroke-width="1.0"/>
<line x1="167.62" y1="425" x2="167.62" y2="427.6" stroke="#1a1a1a" stroke-width="1.0"/>
<line x1="183.7" y1="425" x2="183.7" y2="430" stroke="#1a1a1a" stroke-width="1.0"/>
<line x1="199.77" y1="425" x2="199.77" y2="427.6" stroke="#1a1a1a" stroke-width="1.0"/>
<line x1="215.85" y1="425" x2="215.85" y2="430" stroke="#1a1a1a" stroke-width="1.0"/>
<line x1="231.92" y1="425" x2="231.92" y2="427.6" stroke="#1a1a1a" stroke-width="1.0"/>
<line x1="248" y1="425" x2="248" y2="430" stroke="#1a1a1a" stroke-width="1.0"/>
<line x1="264.07" y1="425" x2="264.07" y2="427.6" stroke="#1a1a1a" stroke-width="1.0"/>
<line x1="335" y1="8.7" x2="543.8" y2="8.7" stroke="#3a3a3a" stroke-width="0.8"/>
<line x1="543.8" y1="8.7" x2="543.8" y2="216.6" stroke="#3a3a3a" stroke-width="0.8"/>
<line x1="335" y1="8.4" x2="335" y2="217.2" stroke="#1a1a1a" stroke-width="1.4"/>
<line x1="334.3" y1="216.6" x2="544.2" y2="216.6" stroke="#1a1a1a" stroke-width="1.3"/>
<line x1="330" y1="216.6" x2="335" y2="216.6" stroke="#1a1a1a" stroke-width="1.0"/>
<line x1="332.2" y1="206.2" x2="335" y2="206.2" stroke="#1a1a1a" stroke-width="1.0"/>
<line x1="330" y1="195.81" x2="335" y2="195.81" stroke="#1a1a1a" stroke-width="1.0"/>
<line x1="332.2" y1="185.41" x2="335" y2="185.41" stroke="#1a1a1a" stroke-width="1.0"/>
<line x1="330" y1="175.02" x2="335" y2="175.02" stroke="#1a1a1a" stroke-width="1.0"/>
<line x1="332.2" y1="164.62" x2="335" y2="164.62" stroke="#1a1a1a" stroke-width="1.0"/>
<line x1="330" y1="154.23" x2="335" y2="154.23" stroke="#1a1a1a" stroke-width="1.0"/>
<line x1="332.2" y1="143.83" x2="335" y2="143.83" stroke="#1a1a1a" stroke-width="1.0"/>
<line x1="330" y1="133.44" x2="335" y2="133.44" stroke="#1a1a1a" stroke-width="1.0"/>
<line x1="332.2" y1="123.04" x2="335" y2="123.04" stroke="#1a1a1a" stroke-width="1.0"/>
<line x1="330" y1="112.65" x2="335" y2="112.65" stroke="#1a1a1a" stroke-width="1.0"/>
<line x1="332.2" y1="102.25" x2="335" y2="102.25" stroke="#1a1a1a" stroke-width="1.0"/>
<line x1="330" y1="91.86" x2="335" y2="91.86" stroke="#1a1a1a" stroke-width="1.0"/>
<line x1="332.2" y1="81.47" x2="335" y2="81.47" stroke="#1a1a1a" stroke-width="1.0"/>
<line x1="330" y1="71.07" x2="335" y2="71.07" stroke="#1a1a1a" stroke-width="1.0"/>
<line x1="332.2" y1="60.67" x2="335" y2="60.67" stroke="#1a1a1a" stroke-width="1.0"/>
<line x1="330" y1="50.28" x2="335" y2="50.28" stroke="#1a1a1a" stroke-width="1.0"/>
<line x1="332.2" y1="39.88" x2="335" y2="39.88" stroke="#1a1a1a" stroke-width="1.0"/>
<line x1="330" y1="29.49" x2="335" y2="29.49" stroke="#1a1a1a" stroke-width="1.0"/>
<line x1="332.2" y1="19.09" x2="335" y2="19.09" stroke="#1a1a1a" stroke-width="1.0"/>
<line x1="330" y1="8.7" x2="335" y2="8.7" stroke="#1a1a1a" stroke-width="1.0"/>
<line x1="335" y1="216.6" x2="543.8" y2="216.6" stroke="#3a3a3a" stroke-width="0.8"/>
<line x1="543.8" y1="216.6" x2="543.8" y2="424" stroke="#3a3a3a" stroke-width="0.8"/>
<line x1="335" y1="216.3" x2="335" y2="424.6" stroke="#1a1a1a" stroke-width="1.4"/>
<line x1="334.3" y1="424" x2="544.2" y2="424" stroke="#1a1a1a" stroke-width="1.3"/>
<line x1="330" y1="424" x2="335" y2="424" stroke="#1a1a1a" stroke-width="1.0"/>
<line x1="332.2" y1="413.63" x2="335" y2="413.63" stroke="#1a1a1a" stroke-width="1.0"/>
<line x1="330" y1="403.26" x2="335" y2="403.26" stroke="#1a1a1a" stroke-width="1.0"/>
<line x1="332.2" y1="392.89" x2="335" y2="392.89" stroke="#1a1a1a" stroke-width="1.0"/>
<line x1="330" y1="382.52" x2="335" y2="382.52" stroke="#1a1a1a" stroke-width="1.0"/>
<line x1="332.2" y1="372.15" x2="335" y2="372.15" stroke="#1a1a1a" stroke-width="1.0"/>
<line x1="330" y1="361.78" x2="335" y2="361.78" stroke="#1a1a1a" stroke-width="1.0"/>
<line x1="332.2" y1="351.41" x2="335" y2="351.41" stroke="#1a1a1a" stroke-width="1.0"/>
<line x1="330" y1="341.04" x2="335" y2="341.04" stroke="#1a1a1a" stroke-width="1.0"/>
<line x1="332.2" y1="330.67" x2="335" y2="330.67" stroke="#1a1a1a" stroke-width="1.0"/>
<line x1="330" y1="320.3" x2="335" y2="320.3" stroke="#1a1a1a" stroke-width="1.0"/>
<line x1="332.2" y1="309.93" x2="335" y2="309.93" stroke="#1a1a1a" stroke-width="1.0"/>
<line x1="330" y1="299.56" x2="335" y2="299.56" stroke="#1a1a1a" stroke-width="1.0"/>
<line x1="332.2" y1="289.19" x2="335" y2="289.19" stroke="#1a1a1a" stroke-width="1.0"/>
<line x1="330" y1="278.82" x2="335" y2="278.82" stroke="#1a1a1a" stroke-width="1.0"/>
<line x1="332.2" y1="268.45" x2="335" y2="268.45" stroke="#1a1a1a" stroke-width="1.0"/>
<line x1="330" y1="258.08" x2="335" y2="258.08" stroke="#1a1a1a" stroke-width="1.0"/>
<line x1="332.2" y1="247.71" x2="335" y2="247.71" stroke="#1a1a1a" stroke-width="1.0"/>
<line x1="330" y1="237.34" x2="335" y2="237.34" stroke="#1a1a1a" stroke-width="1.0"/>
<line x1="332.2" y1="226.97" x2="335" y2="226.97" stroke="#1a1a1a" stroke-width="1.0"/>
<line x1="330" y1="216.6" x2="335" y2="216.6" stroke="#1a1a1a" stroke-width="1.0"/>
<line x1="335" y1="424" x2="335" y2="429" stroke="#1a1a1a" stroke-width="1.0"/>
<line x1="351.05" y1="424" x2="351.05" y2="426.6" stroke="#1a1a1a" stroke-width="1.0"/>
<line x1="367.1" y1="424" x2="367.1" y2="429" stroke="#1a1a1a" stroke-width="1.0"/>
<line x1="383.15" y1="424" x2="383.15" y2="426.6" stroke="#1a1a1a" stroke-width="1.0"/>
<line x1="399.2" y1="424" x2="399.2" y2="429" stroke="#1a1a1a" stroke-width="1.0"/>
<line x1="415.25" y1="424" x2="415.25" y2="426.6" stroke="#1a1a1a" stroke-width="1.0"/>
<line x1="431.3" y1="424" x2="431.3" y2="429" stroke="#1a1a1a" stroke-width="1.0"/>
<line x1="447.35" y1="424" x2="447.35" y2="426.6" stroke="#1a1a1a" stroke-width="1.0"/>
<line x1="463.4" y1="424" x2="463.4" y2="429" stroke="#1a1a1a" stroke-width="1.0"/>
<line x1="479.45" y1="424" x2="479.45" y2="426.6" stroke="#1a1a1a" stroke-width="1.0"/>
<line x1="495.5" y1="424" x2="495.5" y2="429" stroke="#1a1a1a" stroke-width="1.0"/>
<line x1="511.55" y1="424" x2="511.55" y2="426.6" stroke="#1a1a1a" stroke-width="1.0"/>
<line x1="527.6" y1="424" x2="527.6" y2="429" stroke="#1a1a1a" stroke-width="1.0"/>
<line x1="543.65" y1="424" x2="543.65" y2="426.6" stroke="#1a1a1a" stroke-width="1.0"/>
<text x="37.4" y="179.58" font-size="12" text-anchor="middle" >200</text>
<text x="37.4" y="137.96" font-size="12" text-anchor="middle" >400</text>
<text x="37.4" y="96.34" font-size="12" text-anchor="middle" >600</text>
<text x="37.4" y="54.72" font-size="12" text-anchor="middle" >800</text>
<text x="36.4" y="13.1" font-size="12" text-anchor="middle" >1000</text>
<text x="37.4" y="387.6" font-size="12" text-anchor="middle" >200</text>
<text x="37.4" y="346" font-size="12" text-anchor="middle" >400</text>
<text x="37.4" y="304.4" font-size="12" text-anchor="middle" >600</text>
<text x="37.4" y="262.8" font-size="12" text-anchor="middle" >800</text>
<text x="36.4" y="220.7" font-size="12" text-anchor="middle" >1000</text>
<text x="42.2" y="429.2" font-size="12" text-anchor="middle" >0</text>
<text x="313.6" y="179.22" font-size="12" text-anchor="middle" >200</text>
<text x="313.6" y="137.64" font-size="12" text-anchor="middle" >400</text>
<text x="313.6" y="96.06" font-size="12" text-anchor="middle" >600</text>
<text x="313.6" y="54.48" font-size="12" text-anchor="middle" >800</text>
<text x="312.6" y="12.9" font-size="12" text-anchor="middle" >1000</text>
<text x="313.6" y="384.12" font-size="12" text-anchor="middle" >200</text>
<text x="313.6" y="342.64" font-size="12" text-anchor="middle" >400</text>
<text x="313.6" y="301.16" font-size="12" text-anchor="middle" >600</text>
<text x="313.6" y="259.68" font-size="12" text-anchor="middle" >800</text>
<text x="312.6" y="217.8" font-size="12" text-anchor="middle" >1000</text>
<text x="316.8" y="426.6" font-size="12" text-anchor="middle" >0</text>
<text x="55.1" y="443.4" font-size="12" text-anchor="middle" >0</text>
<text x="87.25" y="443.4" font-size="12" text-anchor="middle" >5</text>
<text x="119.4" y="443.4" font-size="12" text-anchor="middle" >10</text>
<text x="151.55" y="443.4" font-size="12" text-anchor="middle" >15</text>
<text x="183.7" y="443.4" font-size="12" text-anchor="middle" >20</text>
<text x="215.85" y="443.4" font-size="12" text-anchor="middle" >25</text>
<text x="248" y="443.4" font-size="12" text-anchor="middle" >30</text>
<text x="335" y="443.4" font-size="12" text-anchor="middle" >0</text>
<text x="367.1" y="443.4" font-size="12" text-anchor="middle" >5</text>
<text x="399.2" y="443.4" font-size="12" text-anchor="middle" >10</text>
<text x="431.3" y="443.4" font-size="12" text-anchor="middle" >15</text>
<text x="463.4" y="443.4" font-size="12" text-anchor="middle" >20</text>
<text x="495.5" y="443.4" font-size="12" text-anchor="middle" >25</text>
<text x="527.6" y="443.4" font-size="12" text-anchor="middle" >30</text>
<text x="122" y="458.6" font-size="14.6" text-anchor="start" >Age (Ma)</text>
<text x="402" y="458.5" font-size="14.6" text-anchor="start" >Age (Ma)</text>
<text transform="translate(16.8,108) rotate(-90)" font-size="15" text-anchor="middle">T (°C)</text>
<text transform="translate(16.8,315.2) rotate(-90)" font-size="15" text-anchor="middle">T (°C)</text>
<text transform="translate(294.4,104.4) rotate(-90)" font-size="15" text-anchor="middle">T (°C)</text>
<text transform="translate(294,309.9) rotate(-90)" font-size="15" text-anchor="middle">T (°C)</text>
<rect x="462.6" y="311.2" width="81.2" height="112.8" fill="#fff" stroke="#4a4a4a" stroke-width="0.8"/>
<text x="470.2" y="322.4" font-size="9.8" text-anchor="start" style="stroke-width:0.18px">This study:</text>
<rect x="470.6" y="328.4" width="4.4" height="4.4" fill="#000" stroke="#000" stroke-width="0.4"/>
<text x="478.9" y="333.9" font-size="9.8" text-anchor="start" style="stroke-width:0.18px">zircon U-Pb</text>
<path d="M472.7,339.4 L475.5,342.4 L472.7,345.4 L469.9,342.4Z" fill="#1b9ce6" stroke="#1b9ce6" stroke-width="0.5" stroke-linejoin="miter"/>
<text x="477.2" y="345.6" font-size="9.8" letter-spacing="0.35" style="stroke-width:0.18px"><tspan font-size="6.4" dy="-3.2" style="stroke-width:0.05px">40</tspan><tspan dy="3.2">Ar/</tspan><tspan font-size="6.4" dy="-3.2" style="stroke-width:0.05px">39</tspan><tspan dy="3.2">Ar(Bi)</tspan></text>
<path d="M473,351.64 L475.4,356.24 L470.6,356.24Z" fill="#00e400" stroke="#00e400" stroke-width="0.6" stroke-linejoin="miter"/>
<text x="479.6" y="357.6" font-size="9.8" text-anchor="start" style="stroke-width:0.18px">AFT</text>
<text x="470.2" y="370.2" font-size="9.8" text-anchor="start" style="stroke-width:0.18px">Published:</text>
<rect x="471.05" y="376.15" width="3.7" height="3.7" fill="#fff" stroke="#000" stroke-width="1.3"/>
<text x="478.9" y="381.7" font-size="9.8" text-anchor="start" style="stroke-width:0.18px">zircon U-Pb</text>
<path d="M473,387.6 L475.6,390.4 L473,393.2 L470.4,390.4Z" fill="#fff" stroke="#1b9ce6" stroke-width="1.1" stroke-linejoin="miter"/>
<text x="479" y="394" font-size="9.8" letter-spacing="0.35" style="stroke-width:0.18px"><tspan font-size="6.4" dy="-3.2" style="stroke-width:0.05px">40</tspan><tspan dy="3.2">Ar/</tspan><tspan font-size="6.4" dy="-3.2" style="stroke-width:0.05px">39</tspan><tspan dy="3.2">Ar(Bi)</tspan></text>
<circle cx="473.1" cy="404.2" r="2.25" fill="#fff" stroke="#00e8ff" stroke-width="1.3"/>
<text x="479.9" y="407.4" font-size="9.8" text-anchor="start" style="stroke-width:0.18px">ZFT</text>
<path d="M510,400.52 L512.8,406.32 L507.2,406.32Z" fill="#fff" stroke="#00e400" stroke-width="1.2" stroke-linejoin="miter"/>
<text x="517.2" y="407.4" font-size="9.8" text-anchor="start" style="stroke-width:0.18px">AFT</text>
<rect x="470.7" y="412.6" width="3.8" height="3.8" fill="#fff" stroke="#f516e0" stroke-width="1.3"/>
<text x="486.8" y="418.2" font-size="9.8" text-anchor="start" style="stroke-width:0.18px">AHe</text>
</svg></body></html>
